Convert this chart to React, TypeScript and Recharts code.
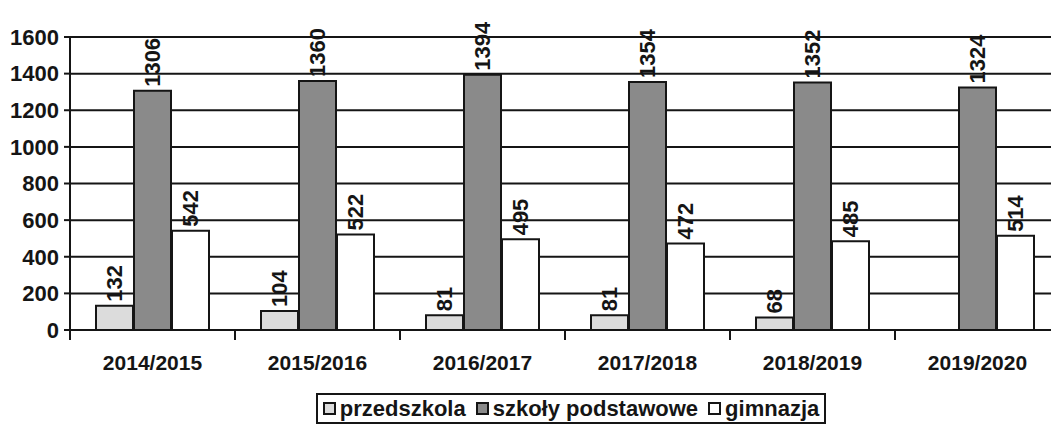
import { BarChart, Bar, XAxis, YAxis, CartesianGrid, LabelList } from "recharts"

const years = ["2014/2015", "2015/2016", "2016/2017", "2017/2018", "2018/2019", "2019/2020"]
const przedszkola = [132, 104, 81, 81, 68, null]
const podstawowe = [1306, 1360, 1394, 1354, 1352, 1324]
const gimnazja = [542, 522, 495, 472, 485, 514]
const yTicks = [0, 200, 400, 600, 800, 1000, 1200, 1400, 1600]

const series = [
  { key: "przedszkola", name: "przedszkola", fill: "#dcdcdc" },
  { key: "podstawowe", name: "szkoły podstawowe", fill: "#8a8a8a" },
  { key: "gimnazja", name: "gimnazja", fill: "#ffffff" },
]

const data = years.map((year, i) => ({
  year,
  przedszkola: przedszkola[i],
  podstawowe: podstawowe[i],
  gimnazja: gimnazja[i],
}))

const ink = "#151515"
const font = "'Liberation Sans', Arial, sans-serif"

// the scan is cropped on the right, so the plot runs a bit past the window
const CHART_W = 1066
const Y_AXIS_W = 70
const RIGHT = 6
const halfBand = (CHART_W - Y_AXIS_W - RIGHT) / years.length / 2

function VerticalLabel(props: any) {
  const { x, y, width, value } = props
  if (value == null) return null
  const cx = x + width / 2
  const cy = y - 4
  return (
    <text
      x={cx}
      y={cy}
      transform={`rotate(-90 ${cx} ${cy})`}
      textAnchor="start"
      dominantBaseline="central"
      fontSize={22}
      fontWeight={700}
      fill={ink}
      fontFamily={font}
    >
      {value}
    </text>
  )
}

function YearTick(props: any) {
  const { x, y, payload } = props
  const half = payload && payload.offset ? payload.offset : halfBand
  return (
    <g>
      <line x1={x - half} x2={x - half} y1={y - 1} y2={y + 8} stroke={ink} strokeWidth={2} />
      <line x1={x + half} x2={x + half} y1={y - 1} y2={y + 8} stroke={ink} strokeWidth={2} />
      <text
        x={x}
        y={y + 30}
        textAnchor="middle"
        dominantBaseline="central"
        fontSize={21}
        fontWeight={700}
        fill={ink}
        fontFamily={font}
      >
        {payload.value}
      </text>
    </g>
  )
}

export default function App() {
  return (
    <div style={{ position: "relative", width: 1051, height: 430, background: "#fff", fontFamily: font, overflow: "hidden" }}>
      <style>{`body{margin:0}`}</style>
      <BarChart
        width={CHART_W}
        height={430}
        data={data}
        margin={{ top: 37, right: RIGHT, left: 0, bottom: 70 }}
        barSize={37}
        barGap={1}
        barCategoryGap={26}
      >
        <CartesianGrid vertical={false} stroke={ink} strokeWidth={2} strokeOpacity={1} />
        <XAxis
          dataKey="year"
          tickLine={false}
          tickSize={0}
          axisLine={{ stroke: ink, strokeWidth: 2 }}
          tick={YearTick}
          interval={0}
          height={30}
        />
        <YAxis
          domain={[0, 1600]}
          ticks={yTicks}
          interval={0}
          width={Y_AXIS_W}
          tickSize={6}
          tickMargin={5}
          tickLine={{ stroke: ink, strokeWidth: 2 }}
          axisLine={{ stroke: ink, strokeWidth: 2 }}
          tick={{ fontSize: 22, fontWeight: 700, fill: ink, fontFamily: font }}
        />
        {series.map((s) => (
          <Bar
            key={s.key}
            dataKey={s.key}
            name={s.name}
            fill={s.fill}
            stroke={ink}
            strokeWidth={2}
            isAnimationActive={false}
          >
            <LabelList dataKey={s.key} content={VerticalLabel} />
          </Bar>
        ))}
      </BarChart>
      <div
        style={{
          position: "absolute",
          left: 316,
          top: 393,
          width: 510,
          height: 31,
          border: `2px solid ${ink}`,
          display: "flex",
          alignItems: "center",
          justifyContent: "center",
          gap: 10,
          fontSize: 22,
          fontWeight: 700,
          color: ink,
          boxSizing: "border-box",
        }}
      >
        {series.map((s) => (
          <span key={s.key} style={{ display: "flex", alignItems: "center", gap: 4 }}>
            <span
              style={{
                display: "inline-block",
                width: 13,
                height: 13,
                background: s.fill,
                border: `2px solid ${ink}`,
                boxSizing: "border-box",
              }}
            />
            {s.name}
          </span>
        ))}
      </div>
    </div>
  )
}
